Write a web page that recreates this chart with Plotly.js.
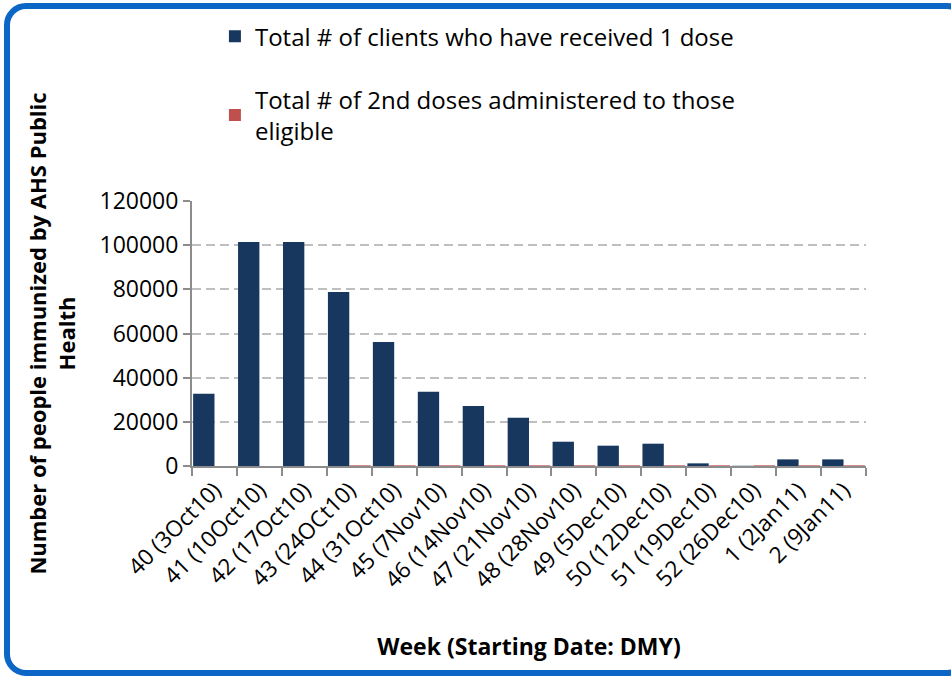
<!DOCTYPE html>
<html>
<head>
<meta charset="utf-8">
<script src="https://cdn.plot.ly/plotly-3.0.1.min.js"></script>
<style>
  html, body { margin: 0; padding: 0; background: #ffffff; overflow: hidden; }
  #wrap { position: relative; width: 951px; height: 676px; }
  #frame { position: absolute; left: 4px; top: 3px; width: 965px; height: 673px;
           box-sizing: border-box; border: 6px solid #0b66c6; border-radius: 22px; }
  #chart { position: absolute; left: 0; top: 0; width: 951px; height: 676px; }
</style>
</head>
<body>
<div id="wrap">
  <div id="frame"></div>
  <div id="chart"></div>
</div>
<script>
// ---- data ----
const weeks = [
  "40 (3Oct10)", "41 (10Oct10)", "42 (17Oct10)", "43 (24OCt10)", "44 (31Oct10)",
  "45 (7Nov10)", "46 (14Nov10)", "47 (21Nov10)", "48 (28Nov10)", "49 (5Dec10)",
  "50 (12Dec10)", "51 (19Dec10)", "52 (26Dec10)", "1 (2Jan11)", "2 (9Jan11)"
];
const firstDose = [32700, 101400, 101400, 78800, 56200, 33600, 27200, 21800, 11000, 9200, 10100, 1200, 100, 3000, 3000];
const secondDose = [0, 0, 0, 300, 300, 300, 300, 300, 300, 300, 300, 300, 300, 300, 300];
const seriesNames = [
  "Total # of clients who have received 1 dose",
  "Total # of 2nd doses administered to those<br>eligible"
];
const yTicks = [0, 20000, 40000, 60000, 80000, 100000, 120000];
const yTickText = ["0", "20000", "40000", "60000", "80000", "100000", "120000"];

const FONT = "'Open Sans', 'Noto Sans', sans-serif";

const traces = [
  { type: "bar", x: weeks, y: firstDose, name: seriesNames[0], legendgroup: "a",
    marker: { color: "#17375e", line: { width: 0 } }, hoverinfo: "x+y" },
  { type: "bar", x: weeks, y: secondDose, name: seriesNames[1], legendgroup: "b",
    marker: { color: "#c0504d", line: { width: 0 } }, hoverinfo: "x+y" }
];

const layout = {
  width: 951, height: 676,
  paper_bgcolor: "rgba(0,0,0,0)", plot_bgcolor: "rgba(0,0,0,0)",
  margin: { l: 192, r: 85, t: 201, b: 210, autoexpand: false },
  barmode: "group", bargap: 0.05, bargroupgap: 0,
  font: { family: FONT, color: "#000000" },
  showlegend: true,
  legend: {
    x: 0.034, xanchor: "left", y: 1.705, yanchor: "top",
    traceorder: "grouped", tracegroupgap: 29,
    font: { family: FONT, size: 24, color: "#000000" },
    bgcolor: "rgba(0,0,0,0)", itemclick: false
  },
  xaxis: {
    type: "category", tickmode: "array", tickvals: weeks, ticktext: weeks,
    tickangle: -45, tickfont: { family: FONT, size: 22.5, color: "#000000" },
    showline: true, linecolor: "#8c8c8c", linewidth: 2,
    ticks: "outside", tickson: "boundaries", ticklen: 8, tickwidth: 2, tickcolor: "#8c8c8c",
    showgrid: false, automargin: false,
    title: { text: "<b>Week (Starting Date: DMY)</b>", font: { family: FONT, size: 23, color: "#000000" }, standoff: 46 }
  },
  yaxis: {
    range: [0, 120000], tickmode: "array", tickvals: yTicks, ticktext: yTickText,
    tickfont: { family: FONT, size: 23, color: "#000000" },
    showline: true, linecolor: "#8c8c8c", linewidth: 2,
    ticks: "outside", ticklen: 7, tickwidth: 2, tickcolor: "#8c8c8c",
    showgrid: true, gridcolor: "#bfbfbf", gridwidth: 2, griddash: "9px,5px",
    zeroline: false, automargin: false,
    title: { text: "<b>Number of people immunized by AHS Public<br>Health</b>", font: { family: FONT, size: 22, color: "#000000" }, standoff: 18 }
  }
};

Plotly.newPlot("chart", traces, layout, { displayModeBar: false, staticPlot: true });
</script>
</body>
</html>
